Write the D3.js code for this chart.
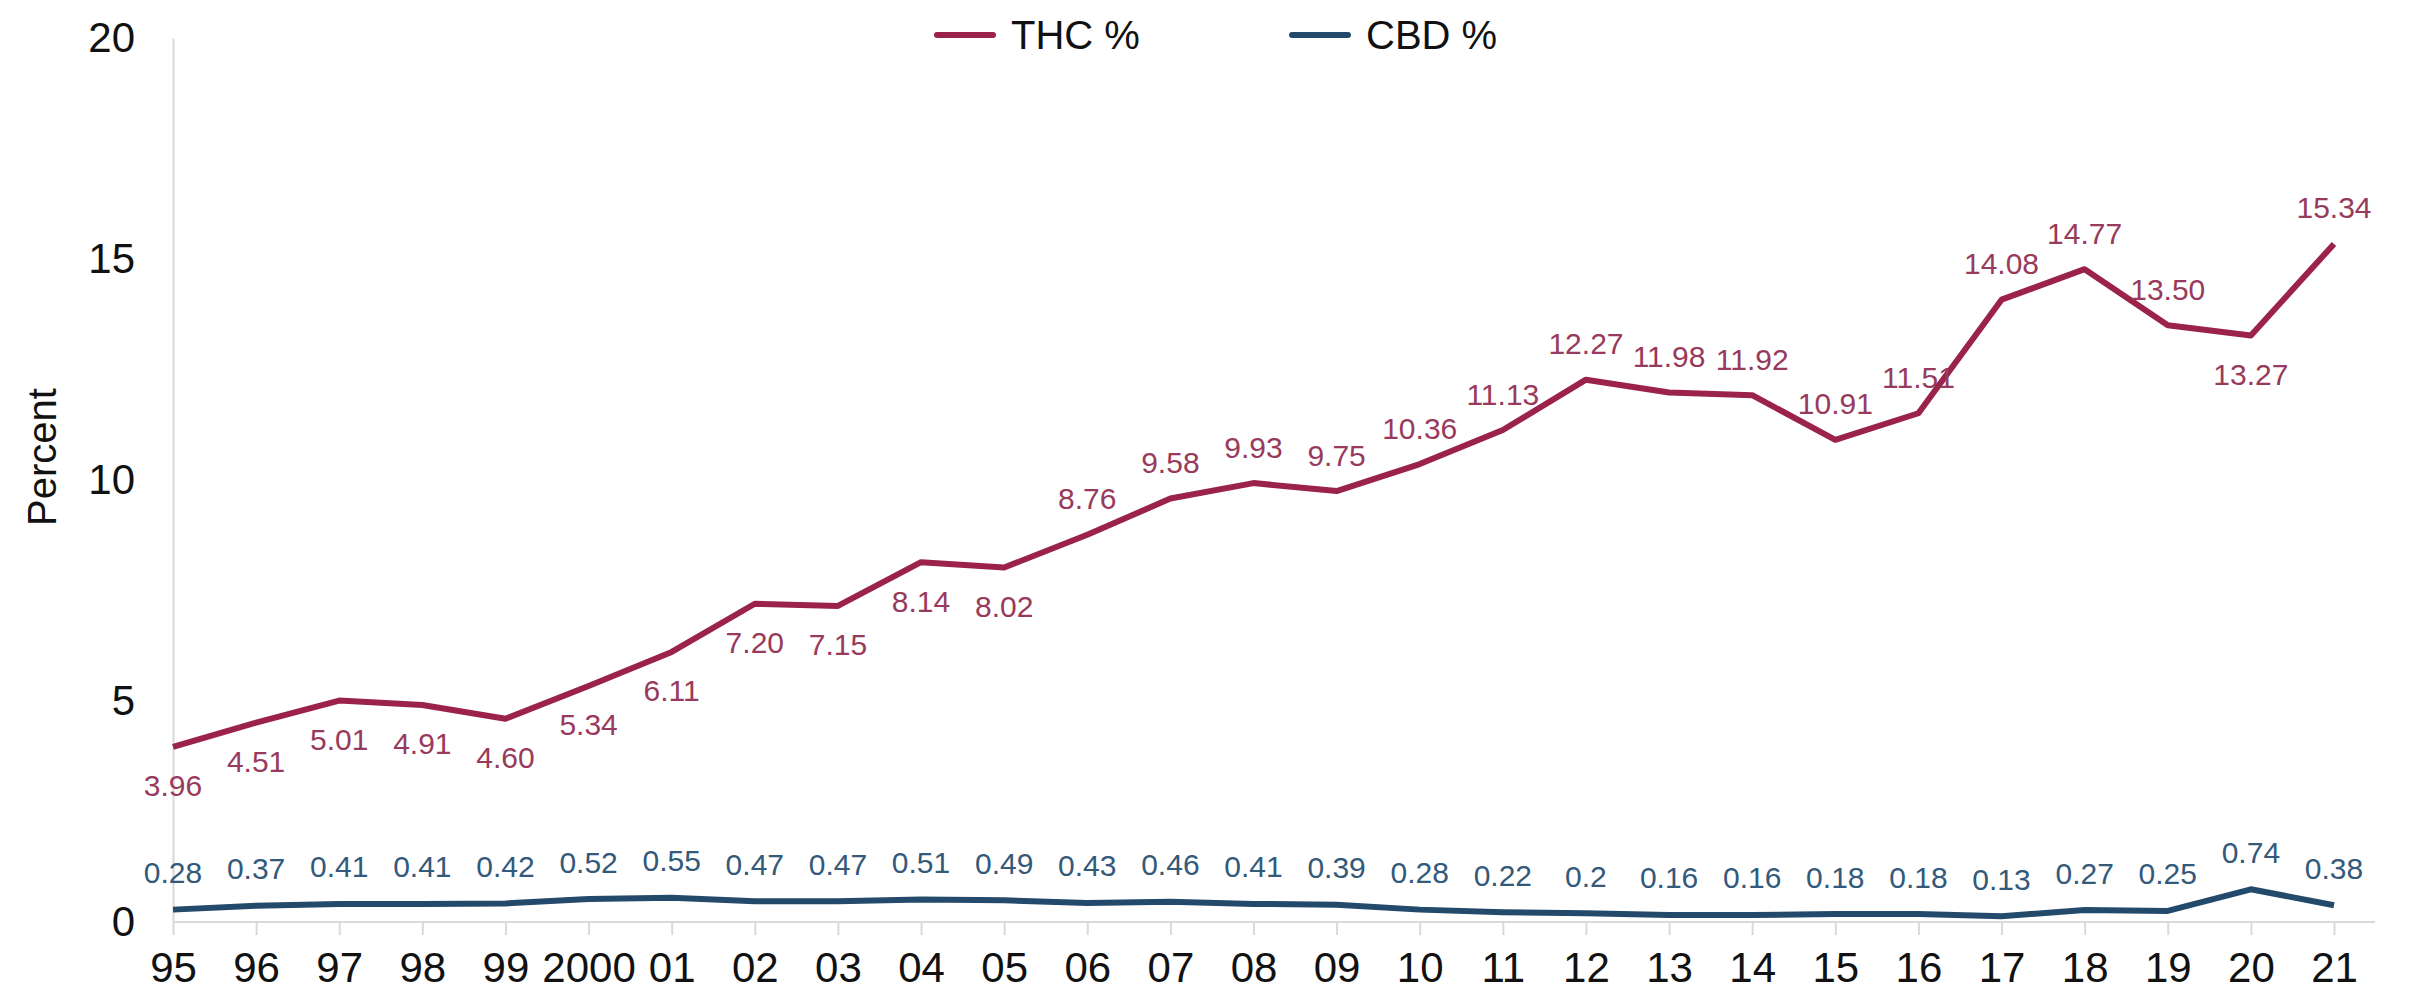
<!DOCTYPE html>
<html>
<head>
<meta charset="utf-8">
<script src="https://cdn.jsdelivr.net/npm/d3@7"></script>
<style>
  html, body { margin: 0; padding: 0; background: #ffffff; }
  svg { display: block; font-family: "Liberation Sans", Arial, sans-serif; }
</style>
</head>
<body>
<svg id="chart" width="2412" height="994"></svg>
<script>
const years = ["95","96","97","98","99","2000","01","02","03","04","05","06","07","08","09","10","11","12","13","14","15","16","17","18","19","20","21"];
const thc = [3.96,4.51,5.01,4.91,4.60,5.34,6.11,7.20,7.15,8.14,8.02,8.76,9.58,9.93,9.75,10.36,11.13,12.27,11.98,11.92,10.91,11.51,14.08,14.77,13.50,13.27,15.34];
const thcLabels = ["3.96","4.51","5.01","4.91","4.60","5.34","6.11","7.20","7.15","8.14","8.02","8.76","9.58","9.93","9.75","10.36","11.13","12.27","11.98","11.92","10.91","11.51","14.08","14.77","13.50","13.27","15.34"];
// label placement: 1 = below the point, 0 = above
const thcBelow = [1,1,1,1,1,1,1,1,1,1,1,0,0,0,0,0,0,0,0,0,0,0,0,0,0,1,0];
const cbd = [0.28,0.37,0.41,0.41,0.42,0.52,0.55,0.47,0.47,0.51,0.49,0.43,0.46,0.41,0.39,0.28,0.22,0.2,0.16,0.16,0.18,0.18,0.13,0.27,0.25,0.74,0.38];
const cbdLabels = ["0.28","0.37","0.41","0.41","0.42","0.52","0.55","0.47","0.47","0.51","0.49","0.43","0.46","0.41","0.39","0.28","0.22","0.2","0.16","0.16","0.18","0.18","0.13","0.27","0.25","0.74","0.38"];
const yTicks = [0,5,10,15,20];
const seriesNames = ["THC %","CBD %"];

const COL_THC = "#9b2349", COL_THC_LBL = "#983a5c";
const COL_CBD = "#234a6b", COL_CBD_LBL = "#33597b";
const GRID = "#d9d9d9";

const svg = d3.select("#chart");
const x = d3.scalePoint().domain(years).range([173, 2334]);
const y = d3.scaleLinear().domain([0, 20]).range([922, 38]);

// y axis
const yAxis = svg.append("g").attr("transform", "translate(173,0)")
  .call(d3.axisLeft(y).tickValues(yTicks).tickSize(0).tickSizeOuter(0).tickPadding(38));
yAxis.select(".domain").attr("stroke", GRID).attr("stroke-width", 2);
yAxis.selectAll("text").attr("font-size", 42).attr("fill", "#111").attr("font-family", "Liberation Sans, Arial, sans-serif");

// x axis
const xAxis = svg.append("g").attr("transform", "translate(0,922)")
  .call(d3.axisBottom(x).tickSize(13).tickSizeOuter(0).tickPadding(0));
xAxis.select(".domain").remove();
xAxis.selectAll(".tick line").attr("stroke", GRID).attr("stroke-width", 2);
xAxis.selectAll("text").attr("font-size", 42).attr("fill", "#111")
  .attr("y", 45).attr("dy", "0.35em").attr("font-family", "Liberation Sans, Arial, sans-serif");
svg.append("line").attr("x1", 173).attr("x2", 2375).attr("y1", y(0)).attr("y2", y(0))
  .attr("stroke", GRID).attr("stroke-width", 2);

// y label
svg.append("text").attr("transform", "translate(42,457) rotate(-90)")
  .attr("text-anchor", "middle").attr("dy", "0.35em")
  .attr("font-size", 40).attr("fill", "#111").text("Percent");

// lines
const line = d3.line().x((d, i) => x(years[i])).y(d => y(d));
svg.append("path").datum(thc).attr("d", line).attr("fill", "none")
  .attr("stroke", COL_THC).attr("stroke-width", 6).attr("stroke-linejoin", "round").attr("stroke-linecap", "butt");
svg.append("path").datum(cbd).attr("d", line).attr("fill", "none")
  .attr("stroke", COL_CBD).attr("stroke-width", 6).attr("stroke-linejoin", "round").attr("stroke-linecap", "butt");

// data labels
svg.append("g").selectAll("text").data(thc).join("text")
  .attr("x", (d, i) => x(years[i]))
  .attr("y", (d, i) => y(d) + (thcBelow[i] ? 39 : -36))
  .attr("dy", "0.35em").attr("text-anchor", "middle")
  .attr("font-size", 30).attr("fill", COL_THC_LBL)
  .text((d, i) => thcLabels[i]);
svg.append("g").selectAll("text").data(cbd).join("text")
  .attr("x", (d, i) => x(years[i]))
  .attr("y", d => y(d) - 37)
  .attr("dy", "0.35em").attr("text-anchor", "middle")
  .attr("font-size", 30).attr("fill", COL_CBD_LBL)
  .text((d, i) => cbdLabels[i]);

// legend
const legend = [
  {name: seriesNames[0], color: COL_THC, x: 937},
  {name: seriesNames[1], color: COL_CBD, x: 1292}
];
const lg = svg.append("g").selectAll("g").data(legend).join("g")
  .attr("transform", d => `translate(${d.x},35)`);
lg.append("line").attr("x1", 0).attr("x2", 56).attr("y1", 0).attr("y2", 0)
  .attr("stroke", d => d.color).attr("stroke-width", 6).attr("stroke-linecap", "round");
lg.append("text").attr("x", 74).attr("dy", "0.35em").attr("font-size", 40).attr("fill", "#111")
  .text(d => d.name);
</script>
</body>
</html>
